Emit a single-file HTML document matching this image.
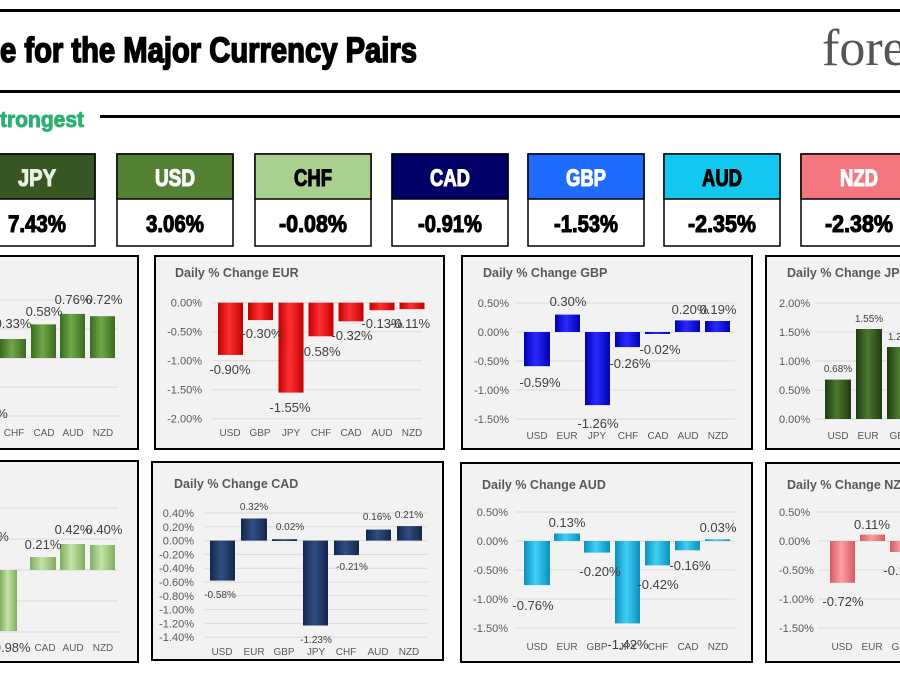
<!DOCTYPE html>
<html><head><meta charset="utf-8"><style>
html,body{margin:0;padding:0;background:#fff;width:900px;height:676px;overflow:hidden}
svg{display:block}
.t{font-family:"Liberation Sans",sans-serif}
.hd{font-family:"Liberation Sans",sans-serif;font-weight:bold;font-size:24px;text-anchor:middle;stroke-width:1.1px}
.ax{font-family:"Liberation Sans",sans-serif;font-size:11px;fill:#595959}
.ar{font-family:"Liberation Sans",sans-serif;font-size:11px;fill:#595959;text-anchor:end}
.xl{font-family:"Liberation Sans",sans-serif;font-size:10px;fill:#595959;text-anchor:middle}
.dl{font-family:"Liberation Sans",sans-serif;font-size:13px;fill:#404040;text-anchor:middle}
.ds{font-family:"Liberation Sans",sans-serif;font-size:10px;fill:#404040;text-anchor:middle}
.ti{font-family:"Liberation Sans",sans-serif;font-size:12.5px;font-weight:bold;fill:#595959}
.g{stroke:#d9d9d9;stroke-width:1}
.box{fill:#f2f2f2;stroke:#000;stroke-width:2}
</style></head><body>
<svg width="900" height="676" viewBox="0 0 900 676" xmlns="http://www.w3.org/2000/svg">
<defs>
<linearGradient id="red" x1="0" x2="1"><stop offset="0" stop-color="#c00000"/><stop offset="0.45" stop-color="#ff3030"/><stop offset="1" stop-color="#c00000"/></linearGradient>
<linearGradient id="blue" x1="0" x2="1"><stop offset="0" stop-color="#0000b0"/><stop offset="0.45" stop-color="#2a2aff"/><stop offset="1" stop-color="#0000b0"/></linearGradient>
<linearGradient id="dg" x1="0" x2="1"><stop offset="0" stop-color="#1e3a10"/><stop offset="0.45" stop-color="#4a7a30"/><stop offset="1" stop-color="#1e3a10"/></linearGradient>
<linearGradient id="mg" x1="0" x2="1"><stop offset="0" stop-color="#3a6a20"/><stop offset="0.45" stop-color="#6fa848"/><stop offset="1" stop-color="#3a6a20"/></linearGradient>
<linearGradient id="lg" x1="0" x2="1"><stop offset="0" stop-color="#7fae5e"/><stop offset="0.45" stop-color="#c4e3a8"/><stop offset="1" stop-color="#7fae5e"/></linearGradient>
<linearGradient id="navy" x1="0" x2="1"><stop offset="0" stop-color="#14264a"/><stop offset="0.45" stop-color="#2f4f84"/><stop offset="1" stop-color="#14264a"/></linearGradient>
<linearGradient id="cy" x1="0" x2="1"><stop offset="0" stop-color="#0b8fbf"/><stop offset="0.45" stop-color="#3fd0f5"/><stop offset="1" stop-color="#0b8fbf"/></linearGradient>
<linearGradient id="pk" x1="0" x2="1"><stop offset="0" stop-color="#d85a60"/><stop offset="0.45" stop-color="#f7a0a4"/><stop offset="1" stop-color="#d85a60"/></linearGradient>
</defs>

<!-- header -->
<rect x="0" y="9" width="900" height="3" fill="#000"/>
<rect x="0" y="90" width="900" height="3" fill="#000"/>
<text x="0" y="62" class="t" font-weight="bold" font-size="35" stroke="#000" stroke-width="1.6" textLength="417" lengthAdjust="spacingAndGlyphs">e for the Major Currency Pairs</text>
<text x="822" y="65" font-family="Liberation Serif,serif" font-size="52" fill="#555">fore</text>
<text x="0" y="127" class="t" font-weight="bold" font-size="22" fill="#2ab070" stroke="#2ab070" stroke-width="0.9" textLength="84" lengthAdjust="spacingAndGlyphs">trongest</text>
<rect x="100" y="115" width="800" height="3" fill="#000"/>

<!-- currency boxes -->
<g stroke="#000" stroke-width="1.5">
<rect x="-21" y="154" width="116" height="92" fill="#fff"/><rect x="-21" y="154" width="116" height="45" fill="#375623"/>
<rect x="117" y="154" width="116" height="92" fill="#fff"/><rect x="117" y="154" width="116" height="45" fill="#548235"/>
<rect x="255" y="154" width="116" height="92" fill="#fff"/><rect x="255" y="154" width="116" height="45" fill="#a9d08e"/>
<rect x="392" y="154" width="116" height="92" fill="#fff"/><rect x="392" y="154" width="116" height="45" fill="#000066"/>
<rect x="528" y="154" width="116" height="92" fill="#fff"/><rect x="528" y="154" width="116" height="45" fill="#1f6bff"/>
<rect x="664" y="154" width="116" height="92" fill="#fff"/><rect x="664" y="154" width="116" height="45" fill="#12c8ee"/>
<rect x="801" y="154" width="116" height="92" fill="#fff"/><rect x="801" y="154" width="116" height="45" fill="#f4777f"/>
</g>
<g class="hd">
<text x="37" y="186" fill="#eaf2e0" stroke="#eaf2e0" textLength="38" lengthAdjust="spacingAndGlyphs">JPY</text>
<text x="175" y="186" fill="#fff" stroke="#fff" textLength="40" lengthAdjust="spacingAndGlyphs">USD</text>
<text x="313" y="186" fill="#000" stroke="#000" textLength="38" lengthAdjust="spacingAndGlyphs">CHF</text>
<text x="450" y="186" fill="#fff" stroke="#fff" textLength="40" lengthAdjust="spacingAndGlyphs">CAD</text>
<text x="586" y="186" fill="#fff" stroke="#fff" textLength="40" lengthAdjust="spacingAndGlyphs">GBP</text>
<text x="722" y="186" fill="#000" stroke="#000" textLength="40" lengthAdjust="spacingAndGlyphs">AUD</text>
<text x="859" y="186" fill="#fff" stroke="#fff" textLength="38" lengthAdjust="spacingAndGlyphs">NZD</text>
<text x="37" y="232" fill="#000" stroke="#000" textLength="58" lengthAdjust="spacingAndGlyphs">7.43%</text>
<text x="175" y="232" fill="#000" stroke="#000" textLength="58" lengthAdjust="spacingAndGlyphs">3.06%</text>
<text x="313" y="232" fill="#000" stroke="#000" textLength="68" lengthAdjust="spacingAndGlyphs">-0.08%</text>
<text x="450" y="232" fill="#000" stroke="#000" textLength="64" lengthAdjust="spacingAndGlyphs">-0.91%</text>
<text x="586" y="232" fill="#000" stroke="#000" textLength="64" lengthAdjust="spacingAndGlyphs">-1.53%</text>
<text x="722" y="232" fill="#000" stroke="#000" textLength="68" lengthAdjust="spacingAndGlyphs">-2.35%</text>
<text x="859" y="232" fill="#000" stroke="#000" textLength="68" lengthAdjust="spacingAndGlyphs">-2.38%</text>
</g>

<!-- chart panels -->
<rect class="box" x="-5" y="256" width="143" height="193"/>
<rect class="box" x="155" y="256" width="289" height="193"/>
<rect class="box" x="462" y="256" width="290" height="193"/>
<rect class="box" x="766" y="256" width="150" height="193"/>
<rect class="box" x="-5" y="461" width="143" height="201"/>
<rect class="box" x="152" y="462" width="291" height="198"/>
<rect class="box" x="461" y="463" width="291" height="199"/>
<rect class="box" x="766" y="463" width="150" height="199"/>

<!-- col1 row1 (USD) -->
<g class="g"><line x1="0" x2="118" y1="300" y2="300"/><line x1="0" x2="118" y1="329" y2="329"/><line x1="0" x2="118" y1="358" y2="358"/><line x1="0" x2="118" y1="387" y2="387"/><line x1="0" x2="118" y1="416" y2="416"/></g>
<g fill="url(#mg)"><rect x="0" y="339" width="26" height="19"/><rect x="31" y="324.4" width="25" height="33.6"/><rect x="60" y="313.9" width="25" height="44.1"/><rect x="90" y="316.2" width="25" height="41.8"/></g>
<g class="dl"><text x="13" y="328">0.33%</text><text x="44" y="316">0.58%</text><text x="73" y="304">0.76%</text><text x="104" y="304">0.72%</text><text x="2" y="418">%</text></g>
<g class="xl"><text x="14" y="436">CHF</text><text x="44" y="436">CAD</text><text x="73" y="436">AUD</text><text x="103" y="436">NZD</text></g>

<!-- EUR -->
<text class="ti" x="175" y="277">Daily % Change EUR</text>
<g class="g"><line x1="212" x2="422" y1="302.7" y2="302.7"/><line x1="212" x2="422" y1="331.7" y2="331.7"/><line x1="212" x2="422" y1="360.7" y2="360.7"/><line x1="212" x2="422" y1="389.7" y2="389.7"/><line x1="212" x2="422" y1="418.7" y2="418.7"/></g>
<g class="ar"><text x="202" y="306.5">0.00%</text><text x="202" y="335.5">-0.50%</text><text x="202" y="364.5">-1.00%</text><text x="202" y="393.5">-1.50%</text><text x="202" y="422.5">-2.00%</text></g>
<g fill="url(#red)"><rect x="218" y="302.7" width="25" height="52.2"/><rect x="248" y="302.7" width="25" height="17.4"/><rect x="278.5" y="302.7" width="25" height="89.9"/><rect x="308.5" y="302.7" width="25" height="33.6"/><rect x="338.5" y="302.7" width="25" height="18.6"/><rect x="369.5" y="302.7" width="25" height="7.5"/><rect x="399.5" y="302.7" width="25" height="6.4"/></g>
<g class="dl"><text x="230" y="374">-0.90%</text><text x="262" y="338">-0.30%</text><text x="290" y="412">-1.55%</text><text x="320" y="356">-0.58%</text><text x="352" y="340">-0.32%</text><text x="382" y="328">-0.13%</text><text x="410" y="328">-0.11%</text></g>
<g class="xl"><text x="230" y="436">USD</text><text x="260" y="436">GBP</text><text x="291" y="436">JPY</text><text x="321" y="436">CHF</text><text x="351" y="436">CAD</text><text x="382" y="436">AUD</text><text x="412" y="436">NZD</text></g>

<!-- GBP -->
<text class="ti" x="483" y="277">Daily % Change GBP</text>
<g class="g"><line x1="515" x2="735" y1="303" y2="303"/><line x1="515" x2="735" y1="332" y2="332"/><line x1="515" x2="735" y1="361" y2="361"/><line x1="515" x2="735" y1="390" y2="390"/><line x1="515" x2="735" y1="419" y2="419"/></g>
<g class="ar"><text x="509" y="307">0.50%</text><text x="509" y="336">0.00%</text><text x="509" y="365">-0.50%</text><text x="509" y="394">-1.00%</text><text x="509" y="423">-1.50%</text></g>
<g fill="url(#blue)"><rect x="524" y="332" width="26" height="34.2"/><rect x="555" y="314.6" width="25" height="17.4"/><rect x="585" y="332" width="25" height="73.1"/><rect x="615" y="332" width="25" height="15.1"/><rect x="645" y="332" width="25" height="2"/><rect x="675" y="320.4" width="25" height="11.6"/><rect x="705" y="321" width="25" height="11"/></g>
<g class="dl"><text x="540" y="387">-0.59%</text><text x="568" y="306">0.30%</text><text x="598" y="428">-1.26%</text><text x="630" y="368">-0.26%</text><text x="660" y="354">-0.02%</text><text x="690" y="314">0.20%</text><text x="718" y="314">0.19%</text></g>
<g class="xl"><text x="537" y="439">USD</text><text x="567" y="439">EUR</text><text x="597" y="439">JPY</text><text x="628" y="439">CHF</text><text x="658" y="439">CAD</text><text x="688" y="439">AUD</text><text x="718" y="439">NZD</text></g>

<!-- JPY -->
<text class="ti" x="787" y="277">Daily % Change JPY</text>
<g class="g"><line x1="815" x2="900" y1="303" y2="303"/><line x1="815" x2="900" y1="332" y2="332"/><line x1="815" x2="900" y1="361" y2="361"/><line x1="815" x2="900" y1="390" y2="390"/><line x1="815" x2="900" y1="419" y2="419"/></g>
<g class="ax"><text x="779" y="307">2.00%</text><text x="779" y="336">1.50%</text><text x="779" y="365">1.00%</text><text x="779" y="394">0.50%</text><text x="779" y="423">0.00%</text></g>
<g fill="url(#dg)"><rect x="825" y="379.6" width="26" height="39.4"/><rect x="856" y="329" width="26" height="90"/><rect x="887" y="347" width="26" height="72"/></g>
<g class="ds"><text x="838" y="372">0.68%</text><text x="869" y="322">1.55%</text><text x="902" y="340">1.24%</text></g>
<g class="xl"><text x="838" y="439">USD</text><text x="868" y="439">EUR</text><text x="900" y="439">GBP</text></g>

<!-- col1 row2 (CHF) -->
<g class="g"><line x1="0" x2="118" y1="508" y2="508"/><line x1="0" x2="118" y1="539" y2="539"/><line x1="0" x2="118" y1="570" y2="570"/><line x1="0" x2="118" y1="601" y2="601"/><line x1="0" x2="118" y1="632" y2="632"/></g>
<g fill="url(#lg)"><rect x="0" y="570" width="17" height="61"/><rect x="30" y="557" width="26" height="13"/><rect x="60" y="544" width="25" height="26"/><rect x="90" y="545" width="25" height="25"/></g>
<g class="dl"><text x="43" y="549">0.21%</text><text x="73" y="534">0.42%</text><text x="104" y="534">0.40%</text><text x="3" y="541">%</text><text x="10" y="652">-0.98%</text></g>
<g class="xl"><text x="45" y="651">CAD</text><text x="73" y="651">AUD</text><text x="103" y="651">NZD</text></g>

<!-- CAD -->
<text class="ti" x="174" y="488">Daily % Change CAD</text>
<g class="g"><line x1="205" x2="427" y1="513" y2="513"/><line x1="205" x2="427" y1="526.8" y2="526.8"/><line x1="205" x2="427" y1="540.6" y2="540.6"/><line x1="205" x2="427" y1="554.4" y2="554.4"/><line x1="205" x2="427" y1="568.2" y2="568.2"/><line x1="205" x2="427" y1="582" y2="582"/><line x1="205" x2="427" y1="595.8" y2="595.8"/><line x1="205" x2="427" y1="609.6" y2="609.6"/><line x1="205" x2="427" y1="623.4" y2="623.4"/><line x1="205" x2="427" y1="637.2" y2="637.2"/></g>
<g class="ar"><text x="194" y="517">0.40%</text><text x="194" y="530.8">0.20%</text><text x="194" y="544.6">0.00%</text><text x="194" y="558.4">-0.20%</text><text x="194" y="572.2">-0.40%</text><text x="194" y="586">-0.60%</text><text x="194" y="599.8">-0.80%</text><text x="194" y="613.6">-1.00%</text><text x="194" y="627.4">-1.20%</text><text x="194" y="641.2">-1.40%</text></g>
<g fill="url(#navy)"><rect x="210" y="540.6" width="25" height="40"/><rect x="241" y="518.5" width="26" height="22.1"/><rect x="272" y="539.2" width="25" height="1.8"/><rect x="303" y="540.6" width="25" height="84.9"/><rect x="334" y="540.6" width="25" height="14.5"/><rect x="366" y="529.6" width="25" height="11"/><rect x="397" y="526.1" width="25" height="14.5"/></g>
<g class="ds"><text x="220" y="598">-0.58%</text><text x="254" y="510">0.32%</text><text x="290" y="530">0.02%</text><text x="316" y="643">-1.23%</text><text x="352" y="570">-0.21%</text><text x="377" y="520">0.16%</text><text x="409" y="518">0.21%</text></g>
<g class="xl"><text x="222" y="655">USD</text><text x="254" y="655">EUR</text><text x="284" y="655">GBP</text><text x="316" y="655">JPY</text><text x="346" y="655">CHF</text><text x="378" y="655">AUD</text><text x="409" y="655">NZD</text></g>

<!-- AUD -->
<text class="ti" x="482" y="489">Daily % Change AUD</text>
<g class="g"><line x1="515" x2="735" y1="512" y2="512"/><line x1="515" x2="735" y1="541" y2="541"/><line x1="515" x2="735" y1="570" y2="570"/><line x1="515" x2="735" y1="599" y2="599"/><line x1="515" x2="735" y1="628" y2="628"/></g>
<g class="ar"><text x="508" y="516">0.50%</text><text x="508" y="545">0.00%</text><text x="508" y="574">-0.50%</text><text x="508" y="603">-1.00%</text><text x="508" y="632">-1.50%</text></g>
<g fill="url(#cy)"><rect x="524" y="541" width="26" height="44.1"/><rect x="554" y="533.5" width="26" height="7.5"/><rect x="584" y="541" width="26" height="11.6"/><rect x="615" y="541" width="25" height="82.4"/><rect x="645" y="541" width="25" height="24.4"/><rect x="675" y="541" width="25" height="9.3"/><rect x="705" y="539.3" width="25" height="1.7"/></g>
<g class="dl"><text x="533" y="610">-0.76%</text><text x="567" y="527">0.13%</text><text x="600" y="576">-0.20%</text><text x="628" y="649">-1.42%</text><text x="658" y="589">-0.42%</text><text x="690" y="570">-0.16%</text><text x="718" y="532">0.03%</text></g>
<g class="xl"><text x="537" y="650">USD</text><text x="567" y="650">EUR</text><text x="597" y="650">GBP</text><text x="628" y="650">JPY</text><text x="658" y="650">CHF</text><text x="688" y="650">CAD</text><text x="718" y="650">NZD</text></g>

<!-- NZD -->
<text class="ti" x="787" y="489">Daily % Change NZD</text>
<g class="g"><line x1="818" x2="900" y1="512" y2="512"/><line x1="818" x2="900" y1="541" y2="541"/><line x1="818" x2="900" y1="570" y2="570"/><line x1="818" x2="900" y1="599" y2="599"/><line x1="818" x2="900" y1="628" y2="628"/></g>
<g class="ax"><text x="779" y="516">0.50%</text><text x="779" y="545">0.00%</text><text x="779" y="574">-0.50%</text><text x="779" y="603">-1.00%</text><text x="779" y="632">-1.50%</text></g>
<g fill="url(#pk)"><rect x="830" y="541" width="25" height="41.8"/><rect x="860" y="534.6" width="25" height="6.4"/><rect x="890" y="541" width="25" height="11"/></g>
<g class="dl"><text x="843" y="606">-0.72%</text><text x="872" y="529">0.11%</text><text x="904" y="575">-0.19%</text></g>
<g class="xl"><text x="842" y="650">USD</text><text x="872" y="650">EUR</text><text x="902" y="650">GBP</text></g>
</svg>
</body></html>
